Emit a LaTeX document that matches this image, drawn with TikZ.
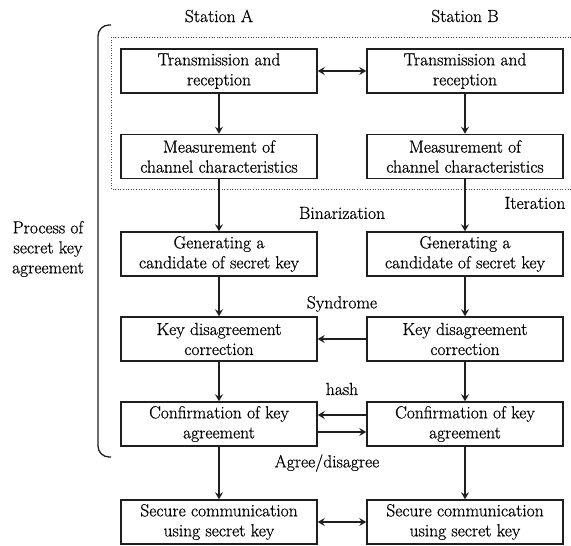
\documentclass[tikz,border=0pt]{standalone}
\usepackage{fontspec}
\newfontfamily\lmthick{Latin Modern Roman}[FakeBold=0.6]
\usetikzlibrary{arrows.meta}
\begin{document}
\begin{tikzpicture}[x=1pt,y=-1pt,
  font=\lmthick\fontsize{17.5}{20}\selectfont,
  box/.style={draw=black!88,line width=1.5pt,minimum width=196pt,minimum height=44pt,inner sep=1pt,align=center},
  arr/.style={line width=1.4pt,draw=black!88,-{Stealth[length=7pt,width=8pt,inset=2.5pt]}},
  darr/.style={line width=1.4pt,draw=black!88,{Stealth[length=7pt,width=8pt,inset=2.5pt]}-{Stealth[length=7pt,width=8pt,inset=2.5pt]}},
  lbl/.style={inner sep=0pt,align=center}]
\useasboundingbox (0,0) rectangle (571,546);
% dotted region
\draw[black!70,line width=0.6pt,dotted] (571,37) -- (111,37) -- (111,189) -- (571,189);
% bracket
\draw[black!88,line width=1.3pt,rounded corners=11pt] (111,25) -- (98,25) -- (98,457) -- (111,457);
% headers
\node[lbl] (sa) at (219,16) {Station A};
\node[lbl] (sb) at (465,16) {Station B};
\node[lbl] (proc) at (48,249) {Process of\\secret key\\agreement};
% boxes
\node[box] (a1) at (219,71) {Transmission and\\reception};
\node[box] (b1) at (465,71) {Transmission and\\reception};
\node[box] (a2) at (219,156.5) {Measurement of\\channel characteristics};
\node[box] (b2) at (465,156.5) {Measurement of\\channel characteristics};
\node[box] (a3) at (219,254) {Generating a\\candidate of secret key};
\node[box] (b3) at (465,254) {Generating a\\candidate of secret key};
\node[box] (a4) at (219,339) {Key disagreement\\correction};
\node[box] (b4) at (465,339) {Key disagreement\\correction};
\node[box] (a5) at (219,424) {Confirmation of key\\agreement};
\node[box] (b5) at (465,424) {Confirmation of key\\agreement};
\node[box] (a6) at (219,522) {Secure communication\\using secret key};
\node[box] (b6) at (465,522) {Secure communication\\using secret key};
% labels
\node[lbl] (bin) at (342,213) {Binarization};
\node[lbl] (it) at (535,203) {Iteration};
\node[lbl] (syn) at (342,304) {Syndrome};
\node[lbl] (hash) at (342,389) {hash};
\node[lbl] (agr) at (327,463) {Agree/disagree};
% vertical arrows
\foreach \s in {a,b}{
  \draw[arr] (\s1) -- (\s2);
  \draw[arr] (\s2) -- (\s3);
  \draw[arr] (\s3) -- (\s4);
  \draw[arr] (\s4) -- (\s5);
  \draw[arr] (\s5) -- (\s6);
}
% horizontal arrows
\draw[darr] (a1) -- (b1);
\draw[arr] (b4) -- (a4);
\draw[arr] ([yshift=9pt]b5.west) -- ([yshift=9pt]a5.east);
\draw[arr] ([yshift=-8pt]a5.east) -- ([yshift=-8pt]b5.west);
\draw[darr] (a6) -- (b6);
\end{tikzpicture}
\end{document}
